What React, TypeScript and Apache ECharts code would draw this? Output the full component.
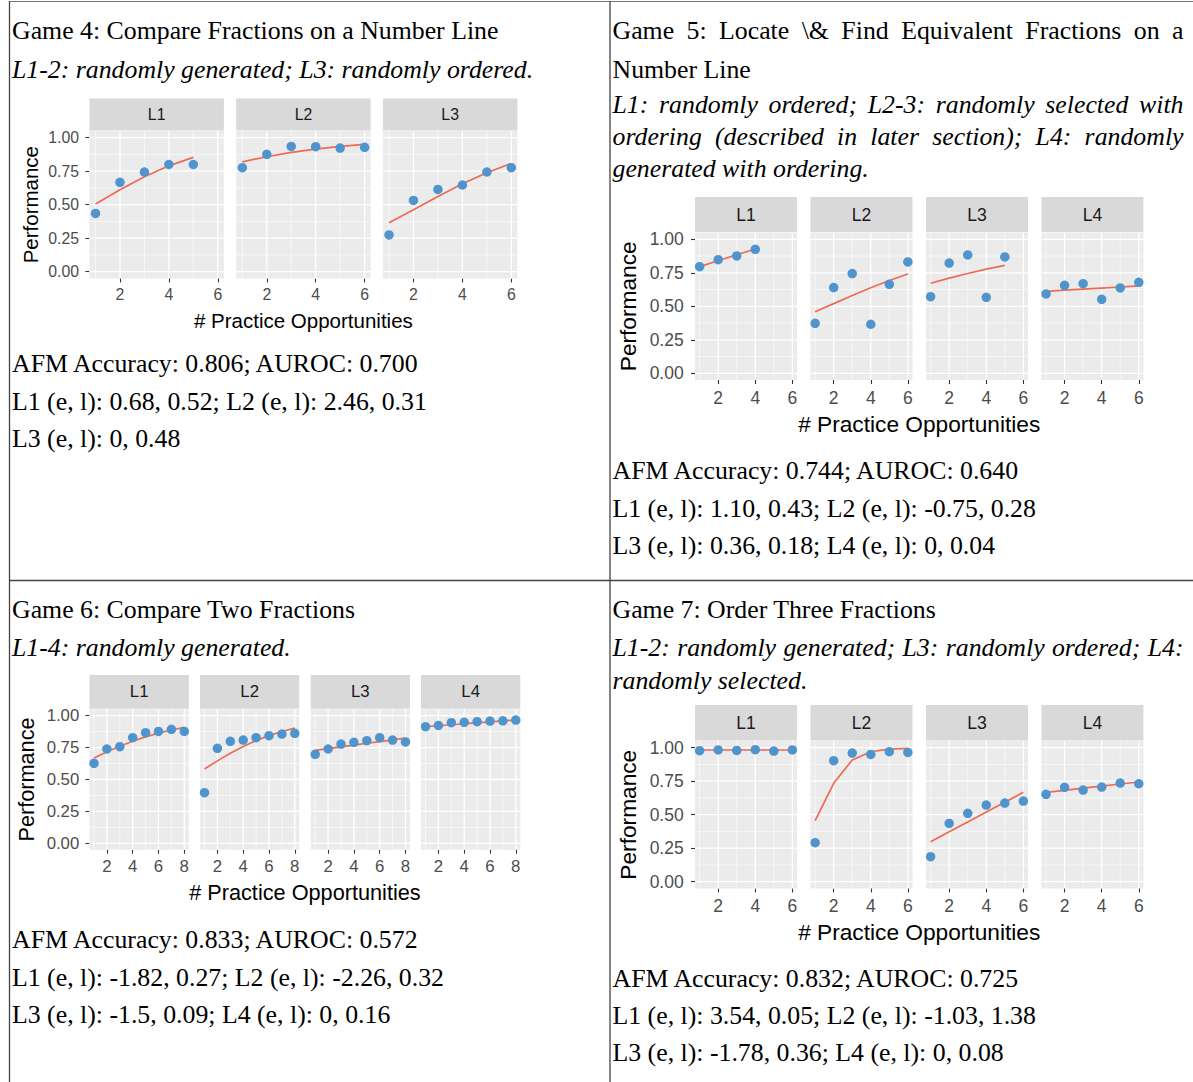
import React, { useEffect, useRef } from "react";
import * as echarts from "echarts";

const W = 1193;
const H = 1082;
const SERIF = "'Liberation Serif', 'Times New Roman', Times, serif";
const SANS = "'Liberation Sans', Arial, Helvetica, sans-serif";

// ---------- axis breaks / limits ----------
const perfLimits = [0, 1];
const perfBreaks = [0, 0.25, 0.5, 0.75, 1];
const perfMinorBreaks = [0.125, 0.375, 0.625, 0.875];
const oppLimits6 = [1, 6];
const oppBreaks6 = [2, 4, 6];
const oppMinorBreaks6 = [1, 3, 5];
const oppLimits8 = [1, 8];
const oppBreaks8 = [2, 4, 6, 8];
const oppMinorBreaks8 = [1, 3, 5, 7];

// ---------- practice opportunities ----------
const opps4 = [1, 2, 3, 4];
const opps5 = [1, 2, 3, 4, 5];
const opps6 = [1, 2, 3, 4, 5, 6];
const opps8 = [1, 2, 3, 4, 5, 6, 7, 8];

// ---------- Game 4 ----------
const g4Levels = ["L1", "L2", "L3"];
const g4L1Perf = [0.435, 0.667, 0.744, 0.8, 0.8];
const g4L1Fit = [0.505, 0.612, 0.709, 0.79, 0.853];
const g4L2Perf = [0.776, 0.876, 0.935, 0.933, 0.923, 0.928];
const g4L2Fit = [0.82, 0.858, 0.89, 0.915, 0.935, 0.95];
const g4L3Perf = [0.274, 0.532, 0.614, 0.647, 0.744, 0.776];
const g4L3Fit = [0.366, 0.462, 0.561, 0.656, 0.739, 0.808];

// ---------- Game 5 ----------
const g5Levels = ["L1", "L2", "L3", "L4"];
const g5L1Perf = [0.796, 0.848, 0.876, 0.925];
const g5L1Fit = [0.796, 0.84, 0.885, 0.928];
const g5L2Perf = [0.373, 0.64, 0.744, 0.366, 0.664, 0.831];
const g5L2Fit = [0.46, 0.52, 0.58, 0.638, 0.692, 0.741];
const g5L3Perf = [0.572, 0.823, 0.883, 0.567, 0.868];
const g5L3Fit = [0.672, 0.71, 0.745, 0.777, 0.806];
const g5L4Perf = [0.592, 0.657, 0.669, 0.552, 0.637, 0.679];
const g5L4Fit = [0.612, 0.62, 0.628, 0.636, 0.644, 0.652];

// ---------- Game 6 ----------
const g6Levels = ["L1", "L2", "L3", "L4"];
const g6L1Perf = [0.627, 0.739, 0.757, 0.828, 0.867, 0.877, 0.893, 0.877];
const g6L1Fit = [0.668, 0.717, 0.761, 0.8, 0.834, 0.863, 0.888, 0.909];
const g6L2Perf = [0.397, 0.744, 0.799, 0.809, 0.828, 0.843, 0.856, 0.862];
const g6L2Fit = [0.582, 0.646, 0.705, 0.758, 0.805, 0.844, 0.876, 0.903];
const g6L3Perf = [0.697, 0.739, 0.778, 0.791, 0.804, 0.828, 0.809, 0.794];
const g6L3Fit = [0.728, 0.742, 0.756, 0.77, 0.784, 0.797, 0.811, 0.825];
const g6L4Perf = [0.914, 0.924, 0.945, 0.948, 0.953, 0.958, 0.96, 0.966];
const g6L4Fit = [0.914, 0.921, 0.929, 0.937, 0.944, 0.951, 0.959, 0.966];

// ---------- Game 7 ----------
const g7Levels = ["L1", "L2", "L3", "L4"];
const g7L1Perf = [0.978, 0.983, 0.98, 0.985, 0.975, 0.983];
const g7L1Fit = [0.983, 0.983, 0.983, 0.983, 0.983, 0.983];
const g7L2Perf = [0.291, 0.903, 0.96, 0.95, 0.97, 0.965];
const g7L2Fit = [0.455, 0.734, 0.908, 0.97, 0.99, 0.995];
const g7L3Perf = [0.187, 0.435, 0.51, 0.572, 0.587, 0.602];
const g7L3Fit = [0.299, 0.372, 0.446, 0.52, 0.593, 0.667];
const g7L4Perf = [0.652, 0.704, 0.684, 0.706, 0.736, 0.731];
const g7L4Fit = [0.667, 0.682, 0.698, 0.713, 0.729, 0.744];

// ---------- texts ----------
const g4Title = ["Game 4: Compare Fractions on a Number Line"];
const g4Note = ["L1-2: randomly generated; L3: randomly ordered."];
const g4Stats = [
  "AFM Accuracy: 0.806; AUROC: 0.700",
  "L1 (e, l): 0.68, 0.52; L2 (e, l): 2.46, 0.31",
  "L3 (e, l): 0, 0.48",
];
const g5Title = ["Game 5: Locate \\& Find Equivalent Fractions on a", "Number Line"];
const g5Note = [
  "L1: randomly ordered; L2-3: randomly selected with",
  "ordering (described in later section); L4: randomly",
  "generated with ordering.",
];
const g5Stats = [
  "AFM Accuracy: 0.744; AUROC: 0.640",
  "L1 (e, l): 1.10, 0.43; L2 (e, l): -0.75, 0.28",
  "L3 (e, l): 0.36, 0.18; L4 (e, l): 0, 0.04",
];
const g6Title = ["Game 6: Compare Two Fractions"];
const g6Note = ["L1-4: randomly generated."];
const g6Stats = [
  "AFM Accuracy: 0.833; AUROC: 0.572",
  "L1 (e, l): -1.82, 0.27; L2 (e, l): -2.26, 0.32",
  "L3 (e, l): -1.5, 0.09; L4 (e, l): 0, 0.16",
];
const g7Title = ["Game 7: Order Three Fractions"];
const g7Note = ["L1-2: randomly generated; L3: randomly ordered; L4:", "randomly selected."];
const g7Stats = [
  "AFM Accuracy: 0.832; AUROC: 0.725",
  "L1 (e, l): 3.54, 0.05; L2 (e, l): -1.03, 1.38",
  "L3 (e, l): -1.78, 0.36; L4 (e, l): 0, 0.08",
];
const yTitle = "Performance";
const xTitle = "# Practice Opportunities";

// ---------- styling ----------
const POINT_COLOR = "#4F94CD";
const FIT_COLOR = "#EF6A55";
const PANEL_BG = "#EBEBEB";
const STRIP_BG = "#D9D9D9";
const SERIF_SIZE = 25.8;

type Facet = { label: string; x: number[]; perf: number[]; fit: number[] };

const game4Facets: Facet[] = [
  { label: g4Levels[0], x: opps5, perf: g4L1Perf, fit: g4L1Fit },
  { label: g4Levels[1], x: opps6, perf: g4L2Perf, fit: g4L2Fit },
  { label: g4Levels[2], x: opps6, perf: g4L3Perf, fit: g4L3Fit },
];
const game5Facets: Facet[] = [
  { label: g5Levels[0], x: opps4, perf: g5L1Perf, fit: g5L1Fit },
  { label: g5Levels[1], x: opps6, perf: g5L2Perf, fit: g5L2Fit },
  { label: g5Levels[2], x: opps5, perf: g5L3Perf, fit: g5L3Fit },
  { label: g5Levels[3], x: opps6, perf: g5L4Perf, fit: g5L4Fit },
];
const game6Facets: Facet[] = [
  { label: g6Levels[0], x: opps8, perf: g6L1Perf, fit: g6L1Fit },
  { label: g6Levels[1], x: opps8, perf: g6L2Perf, fit: g6L2Fit },
  { label: g6Levels[2], x: opps8, perf: g6L3Perf, fit: g6L3Fit },
  { label: g6Levels[3], x: opps8, perf: g6L4Perf, fit: g6L4Fit },
];
const game7Facets: Facet[] = [
  { label: g7Levels[0], x: opps6, perf: g7L1Perf, fit: g7L1Fit },
  { label: g7Levels[1], x: opps6, perf: g7L2Perf, fit: g7L2Fit },
  { label: g7Levels[2], x: opps6, perf: g7L3Perf, fit: g7L3Fit },
  { label: g7Levels[3], x: opps6, perf: g7L4Perf, fit: g7L4Fit },
];

const panelLayouts = [
  {
    facets: game4Facets, lefts: [89.4, 236.2, 382.9], width: 134.5, stripTop: 98.5, top: 131, height: 147.4,
    xLimits: oppLimits6, xBreaks: oppBreaks6, xMinor: oppMinorBreaks6,
    tickSize: 15.8, titleSize: 20.5, yTitleX: 30, xTitleY: 320, xMargin: 8, yMargin: 10.4,
  },
  {
    facets: game5Facets, lefts: [695, 810.5, 926, 1041.4], width: 102, stripTop: 197, top: 232.6, height: 147.4,
    xLimits: oppLimits6, xBreaks: oppBreaks6, xMinor: oppMinorBreaks6,
    tickSize: 17.5, titleSize: 22.7, yTitleX: 628, xTitleY: 424, xMargin: 8.5, yMargin: 11.3,
  },
  {
    facets: game6Facets, lefts: [89.5, 200, 310.7, 421], width: 99.3, stripTop: 675, top: 709.3, height: 140.4,
    xLimits: oppLimits8, xBreaks: oppBreaks8, xMinor: oppMinorBreaks8,
    tickSize: 16.8, titleSize: 21.7, yTitleX: 26, xTitleY: 892, xMargin: 8.2, yMargin: 10.2,
  },
  {
    facets: game7Facets, lefts: [695, 810.5, 926, 1041.4], width: 102, stripTop: 705, top: 741, height: 147.4,
    xLimits: oppLimits6, xBreaks: oppBreaks6, xMinor: oppMinorBreaks6,
    tickSize: 17.5, titleSize: 22.7, yTitleX: 628, xTitleY: 932, xMargin: 8.5, yMargin: 11.3,
  },
];

const textBlocks = [
  { lines: g4Title, x: 12, baselines: [37.5], italic: false, justify: [false] },
  { lines: g4Note, x: 12, baselines: [76], italic: true, justify: [false] },
  { lines: g4Stats, x: 12, baselines: [370, 408.5, 445.5], italic: false, justify: [false, false, false] },
  { lines: g5Title, x: 612.5, baselines: [37.5, 76], italic: false, justify: [true, false] },
  { lines: g5Note, x: 612.5, baselines: [111.5, 143.5, 175.5], italic: true, justify: [true, true, false] },
  { lines: g5Stats, x: 612.5, baselines: [477.5, 515, 552.5], italic: false, justify: [false, false, false] },
  { lines: g6Title, x: 12, baselines: [616], italic: false, justify: [false] },
  { lines: g6Note, x: 12, baselines: [654], italic: true, justify: [false] },
  { lines: g6Stats, x: 12, baselines: [946.5, 984, 1021.5], italic: false, justify: [false, false, false] },
  { lines: g7Title, x: 612.5, baselines: [616], italic: false, justify: [false] },
  { lines: g7Note, x: 612.5, baselines: [654, 687], italic: true, justify: [true, false] },
  { lines: g7Stats, x: 612.5, baselines: [985.5, 1022.5, 1059.5], italic: false, justify: [false, false, false] },
];
const JUSTIFY_RIGHT = 1183.5;

let measureCtx: CanvasRenderingContext2D | null = null;
function measure(text: string, font: string): number {
  if (!measureCtx) measureCtx = document.createElement("canvas").getContext("2d");
  if (!measureCtx) return text.length * 10;
  measureCtx.font = font;
  return measureCtx.measureText(text).width;
}

function textEl(text: string, x: number, y: number, font: string, align = "left", rotation = 0, fill = "#000") {
  return {
    type: "text",
    x,
    y,
    rotation,
    silent: true,
    style: { text, font, fill, textAlign: align, textVerticalAlign: "middle", align, verticalAlign: "middle" },
  };
}

function expand(lim: number[]) {
  const span = lim[1] - lim[0];
  return [lim[0] - span * 0.05, lim[1] + span * 0.05];
}

function buildOption() {
  const graphics: any[] = [];
  const grids: any[] = [];
  const xAxes: any[] = [];
  const yAxes: any[] = [];
  const series: any[] = [];

  // table rules
  const rule = (x1: number, y1: number, x2: number, y2: number, color: string, w: number) =>
    graphics.push({ type: "line", silent: true, shape: { x1, y1, x2, y2 }, style: { stroke: color, lineWidth: w } });
  rule(9, 1.5, W, 1.5, "#777", 1);
  rule(9.5, 1, 9.5, H, "#444", 1.3);
  rule(610, 1, 610, H, "#444", 1.3);
  rule(9, 580.5, W, 580.5, "#444", 1.3);

  // paragraphs
  textBlocks.forEach((b) => {
    const font = `${b.italic ? "italic " : ""}${SERIF_SIZE}px ${SERIF}`;
    b.lines.forEach((line, i) => {
      const y = b.baselines[i] - 0.3375 * SERIF_SIZE + 1.8;
      if (b.justify[i]) {
        const words = line.split(" ");
        const widths = words.map((w) => measure(w, font));
        const total = widths.reduce((a, c) => a + c, 0);
        const gap = (JUSTIFY_RIGHT - b.x - total) / (words.length - 1);
        let x = b.x;
        words.forEach((w, j) => {
          graphics.push(textEl(w, x, y, font));
          x += widths[j] + gap;
        });
      } else {
        graphics.push(textEl(line, b.x, y, font));
      }
    });
  });

  const yRange = expand(perfLimits);
  let k = 0;
  panelLayouts.forEach((p) => {
    const xRange = expand(p.xLimits);
    const tickFont = `${p.tickSize}px ${SANS}`;
    const titleFont = `${p.titleSize}px ${SANS}`;
    const right = p.lefts[p.lefts.length - 1] + p.width;
    // axis titles
    graphics.push(textEl(yTitle, p.yTitleX, p.top + p.height / 2, titleFont, "center", Math.PI / 2));
    graphics.push(textEl(xTitle, (p.lefts[0] + right) / 2, p.xTitleY, titleFont, "center"));

    p.facets.forEach((f, i) => {
      const left = p.lefts[i];
      // strip
      graphics.push({
        type: "rect",
        silent: true,
        shape: { x: left, y: p.stripTop, width: p.width, height: p.top - 0.5 - p.stripTop },
        style: { fill: STRIP_BG },
      });
      graphics.push(textEl(f.label, left + p.width / 2, (p.stripTop + p.top - 0.5) / 2, tickFont, "center", 0, "#1A1A1A"));

      grids.push({
        left, top: p.top, width: p.width, height: p.height,
        show: true, backgroundColor: PANEL_BG, borderWidth: 0, containLabel: false, outerBoundsMode: "none",
      });
      xAxes.push({
        type: "value", gridIndex: k, min: xRange[0], max: xRange[1],
        axisLine: { show: false, onZero: false },
        axisTick: { show: true, customValues: p.xBreaks, length: 4, lineStyle: { color: "#333", width: 1.1 } },
        axisLabel: { show: true, customValues: p.xBreaks, color: "#4D4D4D", fontSize: p.tickSize, fontFamily: SANS, margin: p.xMargin },
        splitLine: { show: false },
      });
      yAxes.push({
        type: "value", gridIndex: k, min: yRange[0], max: yRange[1],
        axisLine: { show: false, onZero: false },
        axisTick: { show: i === 0, customValues: perfBreaks, length: 4, lineStyle: { color: "#333", width: 1.1 } },
        axisLabel: {
          show: i === 0, customValues: perfBreaks, color: "#4D4D4D", fontSize: p.tickSize, fontFamily: SANS,
          margin: p.yMargin, formatter: (v: number) => v.toFixed(2),
        },
        splitLine: { show: false },
      });

      const gridData: number[][] = [];
      perfBreaks.forEach((v) => gridData.push([v, 0]));
      perfMinorBreaks.forEach((v) => gridData.push([v, 1]));
      p.xBreaks.forEach((v) => gridData.push([v, 2]));
      p.xMinor.forEach((v) => gridData.push([v, 3]));
      const xMid = (xRange[0] + xRange[1]) / 2;
      const yMid = (yRange[0] + yRange[1]) / 2;
      series.push({
        type: "custom", xAxisIndex: k, yAxisIndex: k, silent: true, z: 1, clip: false,
        data: gridData,
        renderItem: (params: any, api: any) => {
          const cs = params.coordSys;
          const v = api.value(0);
          const kind = api.value(1);
          const major = kind === 0 || kind === 2;
          const style = { stroke: "#FFFFFF", lineWidth: major ? 1.3 : 0.6 };
          if (kind < 2) {
            const pt = api.coord([xMid, v]);
            return { type: "line", shape: { x1: cs.x, y1: pt[1], x2: cs.x + cs.width, y2: pt[1] }, style };
          }
          const pt = api.coord([v, yMid]);
          return { type: "line", shape: { x1: pt[0], y1: cs.y, x2: pt[0], y2: cs.y + cs.height }, style };
        },
      });
      series.push({
        type: "line", xAxisIndex: k, yAxisIndex: k, z: 2, silent: true,
        data: f.x.map((x, j) => [x, f.fit[j]]),
        symbol: "none", showSymbol: false, smooth: false,
        lineStyle: { color: FIT_COLOR, width: 1.7 },
      });
      series.push({
        type: "scatter", xAxisIndex: k, yAxisIndex: k, z: 3, silent: true,
        data: f.x.map((x, j) => [x, f.perf[j]]),
        symbolSize: 9.5,
        itemStyle: { color: POINT_COLOR, opacity: 1 },
      });
      k++;
    });
  });

  return {
    animation: false,
    backgroundColor: "#FFFFFF",
    grid: grids,
    xAxis: xAxes,
    yAxis: yAxes,
    series,
    graphic: { elements: graphics },
  };
}

export default function App() {
  const ref = useRef<HTMLDivElement>(null);
  useEffect(() => {
    if (!ref.current) return;
    const chart = echarts.init(ref.current, null, { renderer: "svg", width: W, height: H });
    chart.setOption(buildOption() as any);
    return () => chart.dispose();
  }, []);
  return (
    <div
      ref={ref}
      style={{ position: "absolute", left: 0, top: 0, width: W, height: H, background: "#fff" }}
    />
  );
}
